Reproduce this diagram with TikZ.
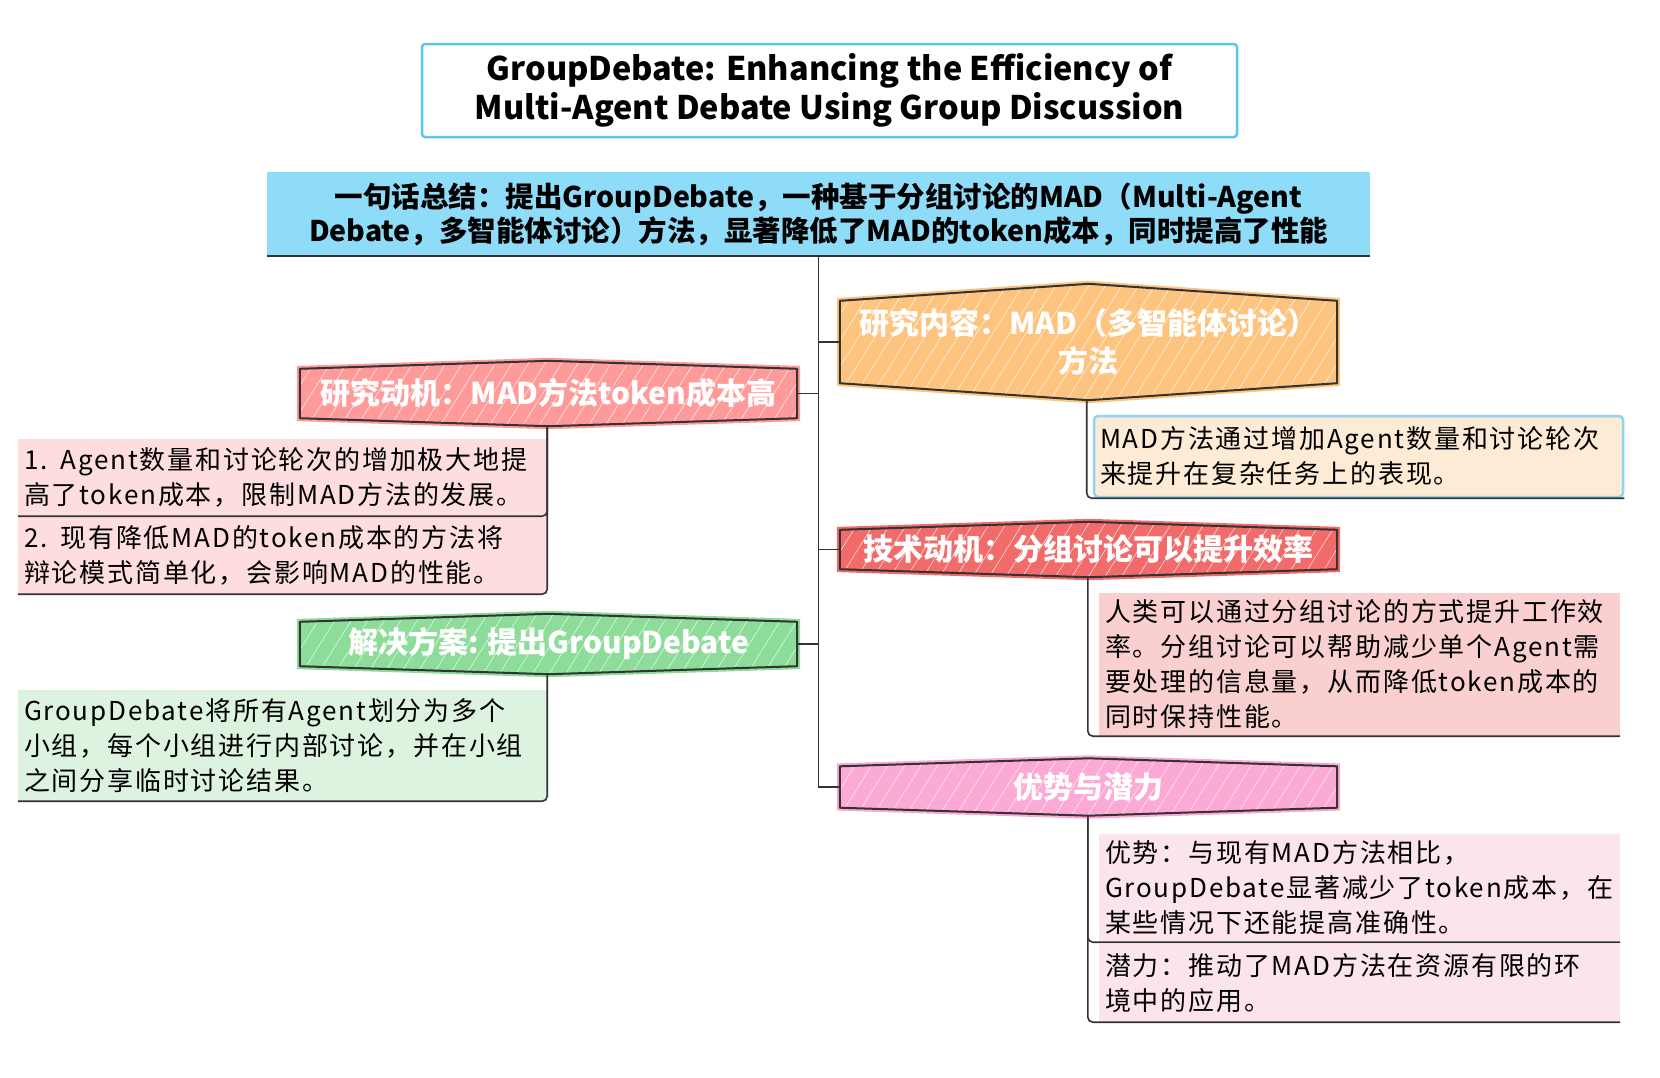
\documentclass[tikz,border=0pt]{standalone}
\usepackage{fontspec}
\setmainfont{Noto Sans CJK SC}
\newfontfamily\leaffont[LetterSpace=7]{Noto Sans CJK SC}
\usetikzlibrary{calc,backgrounds,patterns.meta}
\definecolor{titleblue}{HTML}{5BC5F2}
\definecolor{sumblue}{HTML}{8FDCF9}
\definecolor{linegray}{HTML}{333333}
\definecolor{motivc}{HTML}{FF9A9A}
\definecolor{motivleaf}{HTML}{FDDDDD}
\definecolor{contc}{HTML}{FDC47F}
\definecolor{contleaf}{HTML}{FDEBD6}
\definecolor{contborder}{HTML}{8FD3F5}
\definecolor{techc}{HTML}{F26B6B}
\definecolor{techleaf}{HTML}{F9CFCF}
\definecolor{solc}{HTML}{8DDC99}
\definecolor{solleaf}{HTML}{DDF2DF}
\definecolor{advc}{HTML}{FCA9D5}
\definecolor{advleaf}{HTML}{FCE4EF}

% hexagon behind a heading node: name, colour, depth of the peak
\newcommand\hexfill[3]{%
  \begin{scope}[on background layer]
    \draw[linegray,line width=2pt,line join=round,
      preaction={draw=#2,line width=6pt},preaction={fill=#2},
      pattern={Lines[angle=58,distance=14pt,line width=0.5pt]},pattern color=white!85!#2]
      ($(#1.north west)+(0,#3)$) -- (#1.north) -- ($(#1.north east)+(0,#3)$)
      -- ($(#1.south east)-(0,#3)$) -- (#1.south) -- ($(#1.south west)-(0,#3)$) -- cycle;
  \end{scope}}

\begin{document}
\begin{tikzpicture}[x=1pt,y=-1pt,
  conn/.style={linegray,line width=1.2pt},
  bracket/.style={linegray,line width=1.6pt,rounded corners=5pt},
  heading/.style={text=white,font=\fontsize{30}{38}\selectfont\bfseries,align=center,inner sep=0pt},
  leaf/.style={inner xsep=6pt,inner ysep=0pt,align=left,font=\leaffont\fontsize{26}{35}\selectfont}]
\useasboundingbox (0,0) rectangle (1660,1077);

\node[draw=titleblue,line width=2.5pt,rounded corners=3pt,fill=white,minimum width=815pt,minimum height=93pt,
  align=center,font=\fontsize{32.5}{39}\selectfont\bfseries] (title) at (829.5,90.5)
  {GroupDebate: Enhancing the Efficiency of\\Multi-Agent Debate Using Group Discussion};

\node[fill=sumblue,minimum width=1103pt,minimum height=84pt,align=center,font=\fontsize{28.5}{34}\selectfont\bfseries] (sum) at (818.5,214)
  {一句话总结：提出GroupDebate，一种基于分组讨论的MAD（Multi-Agent\\Debate，多智能体讨论）方法，显著降低了MAD的token成本，同时提高了性能};
\draw[linegray,line width=2.5pt] (sum.south west) -- (sum.south east);

\node[heading,minimum width=497pt,minimum height=65pt] (motiv) at (548.5,393.5) {研究动机：MAD方法token成本高};
\hexfill{motiv}{motivc}{8}
\node[heading,minimum width=497pt,minimum height=116pt] (cont) at (1088.5,342) {研究内容：MAD（多智能体讨论）\\方法};
\hexfill{cont}{contc}{17}
\node[heading,minimum width=497pt,minimum height=55pt] (tech) at (1088.5,549.5) {技术动机：分组讨论可以提升效率};
\hexfill{tech}{techc}{8}
\node[heading,minimum width=497pt,minimum height=60pt] (sol) at (548.5,644) {解决方案: 提出GroupDebate};
\hexfill{sol}{solc}{8}
\node[heading,minimum width=497pt,minimum height=57pt] (adv) at (1088.5,787) {优势与潜力};
\hexfill{adv}{advc}{8}

\draw[conn] (sum.south) |- (motiv.east);
\draw[conn] (sum.south) |- (cont.west);
\draw[conn] (sum.south) |- (tech.west);
\draw[conn] (sum.south) |- (sol.east);
\draw[conn] (sum.south) |- (adv.west);

\node[leaf,fill=motivleaf,minimum width=529pt,minimum height=77pt,text width=517pt] (m1) at (282.5,477.5)
  {1. Agent数量和讨论轮次的增加极大地提\\高了token成本，限制MAD方法的发展。};
\node[leaf,fill=motivleaf,minimum width=529pt,minimum height=78pt,text width=517pt] (m2) at (282.5,555)
  {2. 现有降低MAD的token成本的方法将\\辩论模式简单化，会影响MAD的性能。};
\coordinate (mtop) at (motiv.south -| m1.east);
\draw[bracket] (mtop) |- (m1.south west);
\draw[bracket] (mtop) |- (m2.south west);

\node[leaf,fill=solleaf,minimum width=529pt,minimum height=111pt,text width=517pt] (s1) at (282.5,745.5)
  {GroupDebate将所有Agent划分为多个\\小组，每个小组进行内部讨论，并在小组\\之间分享临时讨论结果。};
\coordinate (stop) at (sol.south -| s1.east);
\draw[bracket] (stop) |- (s1.south west);

\node[leaf,fill=contleaf,draw=contborder,line width=2.5pt,rounded corners=4pt,minimum width=529pt,minimum height=81pt,text width=517pt] (c1) at (1358.5,456.5)
  {MAD方法通过增加Agent数量和讨论轮次\\来提升在复杂任务上的表现。};
\coordinate (ctop) at ([xshift=-6pt]cont.south -| c1.west);
\draw[bracket] (ctop) |- (c1.south east);

\node[leaf,fill=techleaf,minimum width=521pt,minimum height=143pt,text width=509pt] (t1) at (1359.5,664.5)
  {人类可以通过分组讨论的方式提升工作效\\率。分组讨论可以帮助减少单个Agent需\\要处理的信息量，从而降低token成本的\\同时保持性能。};
\coordinate (ttop) at ([xshift=-11pt]tech.south -| t1.west);
\draw[bracket] (ttop) |- (t1.south east);

\node[leaf,fill=advleaf,minimum width=521pt,minimum height=108pt,text width=509pt] (a1) at (1359.5,888)
  {优势：与现有MAD方法相比，\\GroupDebate显著减少了token成本，在\\某些情况下还能提高准确性。};
\node[leaf,fill=advleaf,minimum width=521pt,minimum height=78pt,text width=509pt] (a2) at (1359.5,983)
  {潜力：推动了MAD方法在资源有限的环\\境中的应用。};
\coordinate (atop) at ([xshift=-11pt]adv.south -| a1.west);
\draw[bracket] (atop) |- (a1.south east);
\draw[bracket] (atop) |- (a2.south east);
\end{tikzpicture}
\end{document}
